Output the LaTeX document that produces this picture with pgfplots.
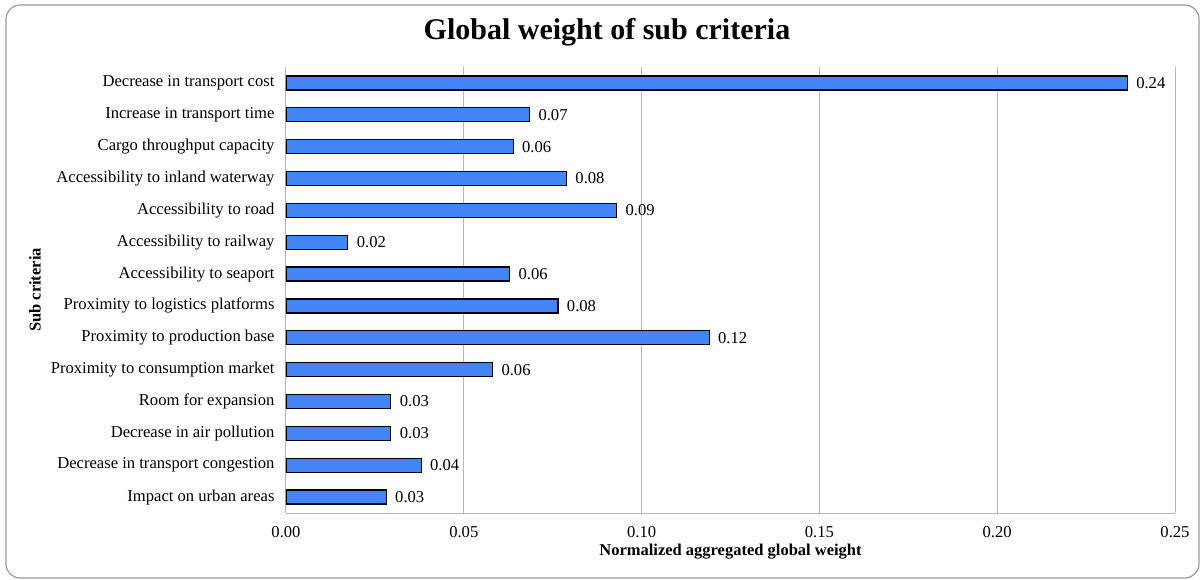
\documentclass[border=0pt]{standalone}
\usepackage{pgfplots}
\pgfplotsset{compat=1.18}
\usepackage{fontspec}
\setmainfont{Liberation Serif}
\definecolor{barblue}{HTML}{4285F4}
\definecolor{gridgray}{HTML}{B8B8B8}
\definecolor{framegray}{HTML}{9A9A9A}
\newcommand{\lbl}{\fontsize{16.6}{19}\selectfont}

\begin{document}
\begin{tikzpicture}
\path[use as bounding box] (-286pt,-67pt) rectangle (917pt,513pt);
\draw[framegray, line width=1.2pt, rounded corners=14pt] (-280pt,-65pt) rectangle (913pt,508pt);
\begin{axis}[
    scale only axis,
    width=889pt, height=446pt,
    xbar, bar width=14pt,
    xmin=0, xmax=0.25,
    ymin=-0.5, ymax=13.5,
    y dir=reverse,
    xtick={0,0.05,0.1,0.15,0.2,0.25},
    ytick={0,...,13},
    yticklabels={Decrease in transport cost, Increase in transport time, Cargo throughput capacity, Accessibility to inland waterway, Accessibility to road, Accessibility to railway, Accessibility to seaport, Proximity to logistics platforms, Proximity to production base, Proximity to consumption market, Room for expansion, Decrease in air pollution, Decrease in transport congestion, Impact on urban areas},
    /pgf/number format/fixed,
    /pgf/number format/fixed zerofill,
    /pgf/number format/precision=2,
    /pgf/number format/assume math mode=true,
    xmajorgrids,
    grid style={gridgray, line width=1pt},
    axis x line*=bottom, axis y line*=left,
    axis line style={gridgray, line width=1pt},
    major tick length=0pt,
    tick label style={font=\lbl},
    yticklabel style={xshift=-8pt},
    xticklabel style={yshift=-10pt},
    point meta=x,
    nodes near coords,
    nodes near coords style={font=\lbl, anchor=west, xshift=5pt},
    title={Global weight of sub criteria},
    title style={at={(axis description cs:0,1)}, xshift=321pt, yshift=29pt, anchor=center, font=\bfseries\fontsize{30}{34}\selectfont},
    xlabel={Normalized aggregated global weight},
    xlabel style={at={(axis description cs:0.5,0)}, yshift=-39pt, anchor=center, font=\bfseries\fontsize{16.5}{19}\selectfont},
    ylabel={Sub criteria},
    ylabel style={at={(axis description cs:-0.2823,0.5)}, anchor=center, font=\bfseries\fontsize{16.5}{19}\selectfont},
]
\addplot[fill=barblue, draw=black, line width=1.2pt] coordinates {
    (0.2366,0) (0.0685,1) (0.0639,2) (0.0789,3) (0.0930,4) (0.0174,5) (0.0629,6)
    (0.0765,7) (0.1190,8) (0.0581,9) (0.0295,10) (0.0295,11) (0.0380,12) (0.0282,13)
};
\end{axis}
\end{tikzpicture}
\end{document}
